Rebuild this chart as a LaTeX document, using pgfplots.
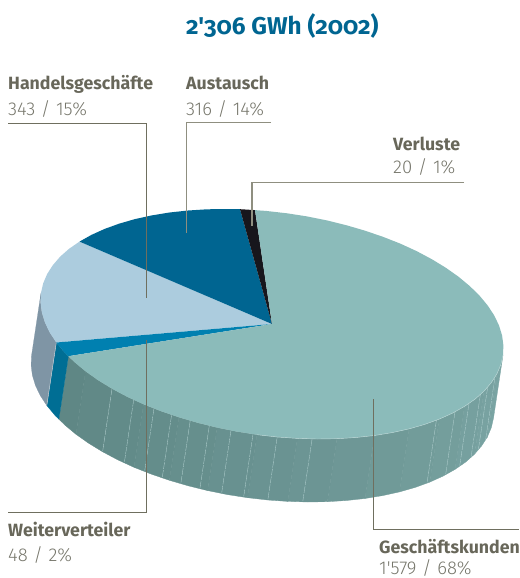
\documentclass[border=0pt]{standalone}
\usepackage{pgfplots}
\pgfplotsset{compat=1.18}
\usepackage{fontspec}
\setmainfont{Fira Sans}
\newfontfamily\titlef[Numbers=OldStyle]{Fira Sans}
\newfontfamily\lightf{Fira Sans Light}
\definecolor{topteal}{HTML}{8BBBBA}
\definecolor{sideL}{HTML}{5E8684}
\definecolor{sideR}{HTML}{7BA5A4}
\definecolor{dkblue}{HTML}{006591}
\definecolor{ltblue}{HTML}{ACCCDE}
\definecolor{mdblue}{HTML}{0080B0}
\definecolor{mdside}{HTML}{006E94}
\definecolor{slate}{HTML}{7F95A5}
\definecolor{blk}{HTML}{17161C}
\definecolor{leadA}{HTML}{6F6F5F}
\definecolor{leadB}{HTML}{8F8F80}
\definecolor{lab}{HTML}{68675A}
\definecolor{val}{HTML}{76766B}
\newcommand{\band}[2]{\addplot[fill=sideR!#1!sideL,draw=sideR!#1!sideL,line width=0.3pt] coordinates {#2} -- cycle;}
\newcommand{\lab}[4]{\node[anchor=base west,inner sep=0pt,text=lab,font=\fontsize{17.8}{17.8}\selectfont\bfseries] at (axis cs:#1,#2) {#4};}
\newcommand{\vall}[4]{\node[anchor=base west,inner sep=0pt,text=val,font=\fontsize{18.6}{18.6}\lightf] at (axis cs:#1,#2) {#4};}
\newcommand{\sep}{\hspace{0.3em}/\hspace{0.3em}}
\begin{document}
\begin{tikzpicture}
\useasboundingbox (0,0) rectangle (520bp,578bp);
\begin{axis}[at={(0,0)},anchor=south west,width=520bp,height=578bp,scale only axis,hide axis,clip=false,
 xmin=-272,xmax=248,ymin=-324,ymax=254,y dir=reverse]
% side bands (10 degree steps)
\band{97}{(231.0,31.2)(228.8,40.7)(224.9,49.9)(215.4,112.9)(219.3,103.7)(221.5,94.2)}
\band{90}{(224.9,49.9)(219.2,58.8)(212.0,67.2)(202.5,130.2)(209.7,121.8)(215.4,112.9)}
\band{83}{(212.0,67.2)(203.1,75.1)(192.5,82.4)(183.0,145.4)(193.6,138.1)(202.5,130.2)}
\band{76}{(192.5,82.4)(180.6,89.1)(167.3,95.1)(157.8,158.1)(171.1,152.1)(183.0,145.4)}
\band{70}{(167.3,95.1)(152.7,100.4)(137.0,104.9)(127.5,167.9)(143.2,163.4)(157.8,158.1)}
\band{63}{(137.0,104.9)(120.2,108.6)(102.5,111.5)(93.0,174.5)(110.7,171.6)(127.5,167.9)}
\band{56}{(102.5,111.5)(84.0,113.5)(64.9,114.7)(55.4,177.7)(74.5,176.5)(93.0,174.5)}
\band{49}{(64.9,114.7)(45.3,115.0)(25.3,114.4)(15.8,177.4)(35.8,178.0)(55.4,177.7)}
\band{43}{(25.3,114.4)(5.2,113.0)(-15.0,110.7)(-24.5,173.7)(-4.3,176.0)(15.8,177.4)}
\band{36}{(-15.0,110.7)(-35.0,107.6)(-54.9,103.6)(-64.4,166.6)(-44.5,170.6)(-24.5,173.7)}
\band{29}{(-54.9,103.6)(-74.3,98.8)(-93.1,93.3)(-102.6,156.3)(-83.8,161.8)(-64.4,166.6)}
\band{22}{(-93.1,93.3)(-111.2,87.1)(-128.5,80.3)(-138.0,143.3)(-120.7,150.1)(-102.6,156.3)}
\band{15}{(-128.5,80.3)(-144.8,72.8)(-160.0,64.7)(-169.5,127.7)(-154.3,135.8)(-138.0,143.3)}
\band{9}{(-160.0,64.7)(-173.9,56.2)(-186.5,47.3)(-196.0,110.3)(-183.4,119.2)(-169.5,127.7)}
\band{3}{(-186.5,47.3)(-197.8,37.9)(-203.6,32.2)(-213.1,95.2)(-207.3,100.9)(-196.0,110.3)}
% blue and slate sides
\addplot[fill=mdside,draw=mdside,line width=0.2pt] coordinates {(-203.6,32.2)(-207.5,28.4)(-215.7,18.5)(-225.2,81.5)(-217.0,91.4)(-213.1,95.2)} -- cycle;
\addplot[fill=slate,draw=slate,line width=0.2pt] coordinates {(-215.7,18.5)(-222.2,8.6)(-227.0,-1.4)(-230.1,-11.5)(-231.4,-21.5)(-231.0,-31.2)(-240.5,31.8)(-240.9,41.5)(-239.6,51.5)(-236.5,61.6)(-231.7,71.6)(-225.2,81.5)} -- cycle;
% ribs on the side
\pgfplotsset{rib/.style={draw=#1,line width=0.3pt,dash pattern=on 7pt off 1pt,forget plot}}
\addplot[rib=white!40!topteal] coordinates {(-160,64.7)(-169.3,127.1)};
\addplot[rib=white!40!topteal] coordinates {(-138.3,75.8)(-147.6,138.2)};
\addplot[rib=white!40!topteal] coordinates {(-118,84.4)(-127.3,146.8)};
\addplot[rib=white!40!topteal] coordinates {(-100.4,90.9)(-109.7,153.3)};
\addplot[rib=white!40!topteal] coordinates {(-81.8,96.6)(-91.1,159)};
\addplot[rib=white!40!topteal] coordinates {(-62.7,101.7)(-72,164.1)};
\addplot[rib=white!40!topteal] coordinates {(-41,106.4)(-50.3,168.8)};
\addplot[rib=white!40!topteal] coordinates {(-19,110.2)(-28.3,172.6)};
\addplot[rib=white!40!topteal] coordinates {(5.2,113)(-4.1,175.4)};
\addplot[rib=white!40!topteal] coordinates {(40.1,114.9)(30.8,177.3)};
\addplot[rib=white!40!topteal] coordinates {(164.4,96.2)(155.1,158.6)};
\addplot[rib=white!40!topteal] coordinates {(183,87.8)(173.7,150.2)};
\addplot[rib=white!40!topteal] coordinates {(197,79.5)(187.7,141.9)};
\addplot[rib=white!40!topteal] coordinates {(208.4,70.4)(199.1,132.8)};
\addplot[rib=white!40!topteal] coordinates {(215.7,63)(206.4,125.4)};
\addplot[rib=white!40!topteal] coordinates {(222.9,53.5)(213.6,115.9)};
\addplot[draw=white!60!slate,line width=0.4pt] coordinates {(-215.7,18.5)(-225.2,81.5)};
% top face sectors
\addplot[fill=ltblue,draw=none] coordinates {(0,0)(-215.7,18.5)(-222.2,8.6)(-227.0,-1.4)(-230.1,-11.5)(-231.4,-21.5)(-231.0,-31.2)(-228.8,-40.7)(-224.9,-49.9)(-219.2,-58.8)(-212.0,-67.2)(-203.1,-75.1)(-192.5,-82.4)} -- cycle;
\addplot[fill=dkblue,draw=none] coordinates {(0,0)(-192.5,-82.4)(-180.6,-89.1)(-167.3,-95.1)(-152.7,-100.4)(-137.0,-104.9)(-120.2,-108.6)(-102.5,-111.5)(-84.0,-113.5)(-64.9,-114.7)(-45.3,-115.0)(-32.0,-114.8)} -- cycle;
\addplot[fill=blk,draw=none] coordinates {(0,0)(-32.0,-114.8)(-25.3,-114.4)(-17.0,-113.9)} -- cycle;
\addplot[fill=mdblue,draw=none] coordinates {(0,0)(-203.6,32.2)(-207.5,28.4)(-215.7,18.5)} -- cycle;
\addplot[fill=topteal,draw=none] coordinates {(0,0)(-17.0,-113.9)(-5.2,-113.0)(15.0,-110.7)(35.0,-107.6)(54.9,-103.6)(74.3,-98.8)(93.1,-93.3)(111.2,-87.1)(128.5,-80.3)(144.8,-72.8)(160.0,-64.7)(173.9,-56.2)(186.5,-47.3)(197.8,-37.9)(207.5,-28.4)(215.7,-18.5)(222.2,-8.6)(227.0,1.4)(230.1,11.5)(231.4,21.5)(231.0,31.2)(228.8,40.7)(224.9,49.9)(219.2,58.8)(212.0,67.2)(203.1,75.1)(192.5,82.4)(180.6,89.1)(167.3,95.1)(152.7,100.4)(137.0,104.9)(120.2,108.6)(102.5,111.5)(84.0,113.5)(64.9,114.7)(45.3,115.0)(25.3,114.4)(5.2,113.0)(-15.0,110.7)(-35.0,107.6)(-54.9,103.6)(-74.3,98.8)(-93.1,93.3)(-111.2,87.1)(-128.5,80.3)(-144.8,72.8)(-160.0,64.7)(-173.9,56.2)(-186.5,47.3)(-197.8,37.9)(-203.6,32.2)} -- cycle;
% pale rim along the front edge
\addplot[draw=white!45!topteal,line width=0.4pt] coordinates {(231.0,31.2)(228.8,40.7)(224.9,49.9)(219.2,58.8)(212.0,67.2)(203.1,75.1)(192.5,82.4)(180.6,89.1)(167.3,95.1)(152.7,100.4)(137.0,104.9)(120.2,108.6)(102.5,111.5)(84.0,113.5)(64.9,114.7)(45.3,115.0)(25.3,114.4)(5.2,113.0)(-15.0,110.7)};
% leader lines
\addplot[draw=leadA,line width=0.9pt] coordinates {(-264,-200.7)(-125.5,-200.7)(-125.5,-26)};
\addplot[draw=leadA,line width=0.9pt] coordinates {(-125.5,16)(-125.5,188)(-264,188)};
\addplot[draw=leadB,line width=0.9pt] coordinates {(-1,-201.5)(-86,-201.5)(-86,-91)};
\addplot[draw=leadB,line width=1.1pt] coordinates {(192,-141.3)(-20,-141.3)(-20,-98)};
\addplot[draw=leadA,line width=0.9pt] coordinates {(101,75)(101,205)(247,205)};
% texts
\node[anchor=base west,inner sep=0pt,text=dkblue,font=\fontsize{24.4}{24.4}\selectfont\titlef\bfseries] at (axis cs:-86,-289) {2'306 GWh (2002)};
\lab{-264}{-234}{}{Handelsgeschäfte}
\vall{-264}{-209}{}{343\sep 15\%}
\lab{-86}{-234}{}{Austausch}
\vall{-86}{-209}{}{316\sep 14\%}
\lab{121}{-174}{}{Verluste}
\vall{121}{-151}{}{20\sep 1\%}
\lab{107}{229}{}{Geschäftskunden}
\vall{107}{250}{}{1'579\sep 68\%}
\lab{-264}{212}{}{Weiterverteiler}
\vall{-264}{237}{}{48\sep 2\%}
\end{axis}
\end{tikzpicture}
\end{document}
